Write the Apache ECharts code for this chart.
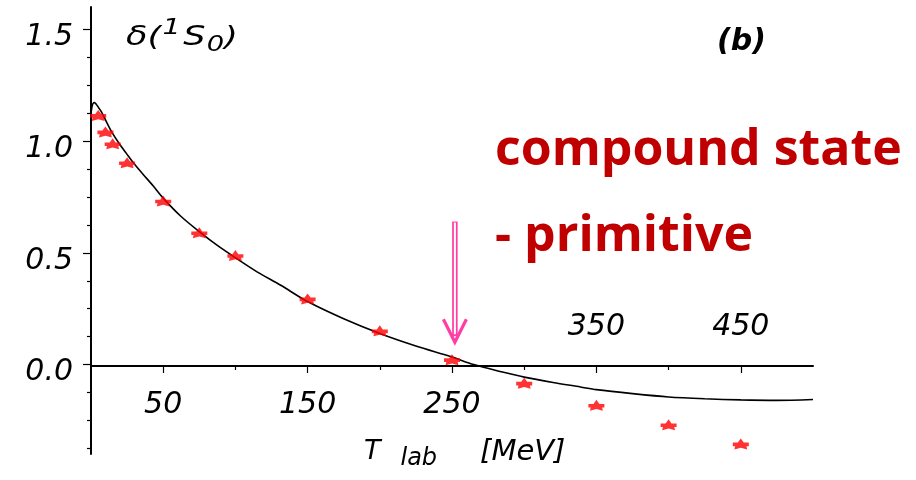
<!DOCTYPE html>
<html><head><meta charset="utf-8">
<script src="https://cdn.jsdelivr.net/npm/echarts@6/dist/echarts.min.js"></script>
<style>html,body{margin:0;padding:0;background:#fff}#c{width:916px;height:480px}</style>
</head><body><div id="c"></div>
<script>
// Theory curve
const curveT = [0, 0.8, 1.6, 2.4, 3.5, 5, 6.8, 8.5, 11.3, 14.3, 19.6, 24.5, 29.3, 36, 43, 50, 62, 75, 87.5, 100, 115, 131.4, 150, 175, 200, 225, 250, 265, 285, 300, 320, 339, 350, 375, 400, 425, 450, 475, 500];
const curveDelta = [1.125, 1.158, 1.170, 1.172, 1.166, 1.152, 1.135, 1.115, 1.078, 1.041, 0.988, 0.945, 0.903, 0.852, 0.800, 0.745, 0.665, 0.595, 0.533, 0.478, 0.415, 0.355, 0.282, 0.205, 0.139, 0.083, 0.034, 0.0, -0.033, -0.056, -0.080, -0.100, -0.112, -0.130, -0.145, -0.153, -0.158, -0.160, -0.156];
// Data points
const dataT = [5, 10, 15, 25, 50, 75, 100, 150, 200, 250, 300, 350, 400, 450];
const dataDelta = [1.115, 1.041, 0.988, 0.903, 0.732, 0.590, 0.488, 0.294, 0.151, 0.022, -0.083, -0.182, -0.269, -0.355];
// Ticks / labels
const yLabelValues = [0, 0.5, 1.0, 1.5];
const yMinorTicks = [-0.375, -0.25, -0.125, 0.125, 0.25, 0.375, 0.625, 0.75, 0.875, 1.125, 1.25, 1.375];
const xLabelsBelow = [50, 150, 250];
const xLabelsAbove = [350, 450];
const xMajorTicks = [50, 150, 250, 350, 450];
const xMinorTicks = [100, 200, 300, 400];
// Annotation arrow (data coords)
const arrowT = 252, arrowFrom = 0.64, arrowTo = 0.10;

const FONT = '"DejaVu Sans", sans-serif';
const chart = echarts.init(document.getElementById('c'), null, {renderer: 'canvas'});

const starPath = 'path://M0,-5 L2.6,-1.6 L7,-1.6 L7,1.4 L5,1.4 L5.6,4 L0,2.6 L-5.6,4 L-5,1.4 L-7,1.4 L-7,-1.6 L-2.6,-1.6 Z';

// layout: main grid, and a thin grid sitting on the y=0 line to carry the x axis
const G = {left: 91, right: 103, top: 7, bottom: 26};
const yMin = -0.4, yMax = 1.6;
const zeroPx = G.top + (480 - G.top - G.bottom) * yMax / (yMax - yMin);

const labelFont = {color: '#000', fontFamily: FONT, fontStyle: 'italic', fontSize: 30};

const option = {
  animation: false,
  backgroundColor: '#fff',
  grid: [
    Object.assign({containLabel: false, outerBoundsMode: 'none'}, G),
    {left: G.left, right: G.right, top: Math.round(zeroPx), height: 1, containLabel: false, outerBoundsMode: 'none'}
  ],
  xAxis: [
    {
      gridIndex: 0, type: 'value', min: 0, max: 500, show: false
    },
    {
      gridIndex: 1, type: 'value', min: 0, max: 500, position: 'bottom',
      axisLine: {show: true, onZero: false, lineStyle: {color: '#000', width: 2}},
      axisTick: {show: true, customValues: xMajorTicks, length: 7, lineStyle: {color: '#000', width: 1.2}},
      axisLabel: Object.assign({show: true, customValues: xLabelsBelow, margin: 24}, labelFont),
      splitLine: {show: false}
    },
    {
      gridIndex: 1, type: 'value', min: 0, max: 500, position: 'top',
      axisLine: {show: false, onZero: false},
      axisTick: {show: true, inside: true, customValues: xMinorTicks, length: 5, lineStyle: {color: '#000', width: 1.2}},
      axisLabel: Object.assign({show: true, customValues: xLabelsAbove, margin: 23}, labelFont),
      splitLine: {show: false}
    }
  ],
  yAxis: [
    {
      gridIndex: 0, type: 'value', min: yMin, max: yMax, position: 'left',
      axisLine: {show: true, onZero: false, lineStyle: {color: '#000', width: 2}},
      axisTick: {show: true, customValues: yLabelValues, length: 8, lineStyle: {color: '#000', width: 1.2}},
      axisLabel: Object.assign({show: true, customValues: yLabelValues, margin: 18,
        formatter: v => '{a|' + v.toFixed(1) + '}',
        rich: {a: {color: '#000', fontFamily: FONT, fontStyle: 'italic', fontSize: 30, padding: [16, 0, 0, 0]}}
      }, labelFont),
      splitLine: {show: false}
    },
    {
      gridIndex: 0, type: 'value', min: yMin, max: yMax, position: 'left',
      axisLine: {show: false, onZero: false},
      axisTick: {show: true, customValues: yMinorTicks, length: 4, lineStyle: {color: '#000', width: 1.2}},
      axisLabel: {show: false},
      splitLine: {show: false}
    },
    {
      gridIndex: 1, type: 'value', min: 0, max: 1, show: false
    }
  ],
  series: [
    {
      type: 'line', xAxisIndex: 0, yAxisIndex: 0,
      data: curveT.map((t, i) => [t, curveDelta[i]]),
      showSymbol: false, symbol: 'none', smooth: 0.3,
      lineStyle: {color: '#000', width: 1.6}, z: 3
    },
    {
      type: 'scatter', xAxisIndex: 0, yAxisIndex: 0,
      data: dataT.map((t, i) => [t, dataDelta[i]]),
      symbol: starPath, symbolSize: [16, 11],
      itemStyle: {color: '#ff0000'}, z: 4
    }
  ],
  graphic: [
    {
      type: 'text', x: 126, y: 17, scaleX: 1.3, z: 10,
      style: {
        text: '{m|δ(}{sup|1}{m|S}{sub|0}{m|)}',
        font: 'italic 27px ' + FONT, fill: '#000',
        rich: {
          m: {fontFamily: FONT, fontStyle: 'italic', fontSize: 27, fill: '#000'},
          sup: {fontFamily: FONT, fontStyle: 'italic', fontSize: 22, fill: '#000', padding: [0, 2, 20, 1]},
          sub: {fontFamily: FONT, fontStyle: 'italic', fontSize: 21, fill: '#000', padding: [16, 0, 0, 1]}
        }
      }
    },
    {
      type: 'text', x: 717, y: 27, z: 10,
      style: {text: '(b)', font: 'italic bold 30px ' + FONT, fill: '#000'}
    },
    {
      type: 'text', x: 364, y: 433, z: 10,
      style: {
        text: '{m|T}{sub|lab}{b|[MeV]}',
        font: 'italic 27px ' + FONT, fill: '#000',
        rich: {
          m: {fontFamily: FONT, fontStyle: 'italic', fontSize: 27, fill: '#000'},
          b: {fontFamily: FONT, fontStyle: 'italic', fontSize: 29, fill: '#000', padding: [0, 0, 0, 43]},
          sub: {fontFamily: FONT, fontStyle: 'italic', fontSize: 24, fill: '#000', padding: [14, 0, 0, 20]}
        }
      }
    },
    {
      type: 'text', x: 495, y: 126, z: 10,
      style: {text: 'compound state', font: 'bold 50px "Open Sans", sans-serif', fill: '#c00000'}
    },
    {
      type: 'text', x: 495, y: 212, z: 10,
      style: {text: '- primitive', font: 'bold 50px "Open Sans", sans-serif', fill: '#c00000'}
    }
  ]
};
chart.setOption(option);

// arrow annotation from data coordinates
const pTop = chart.convertToPixel({xAxisIndex: 0, yAxisIndex: 0}, [arrowT, arrowFrom]);
const pTip = chart.convertToPixel({xAxisIndex: 0, yAxisIndex: 0}, [arrowT, arrowTo]);
const ax = pTop[0];
const PINK = '#ff3ea5';
chart.setOption({
  graphic: option.graphic.concat([
    {type: 'line', z: 20, shape: {x1: ax, y1: pTop[1], x2: ax, y2: pTip[1] - 6}, style: {stroke: PINK, lineWidth: 5.5}},
    {type: 'line', z: 21, shape: {x1: ax, y1: pTop[1] + 1, x2: ax, y2: pTip[1] - 8}, style: {stroke: '#fff', lineWidth: 2}},
    {type: 'polyline', z: 22, shape: {points: [[ax - 11.5, pTip[1] - 23], [ax, pTip[1]], [ax + 11.5, pTip[1] - 23]]},
      style: {stroke: PINK, lineWidth: 3.2, fill: null, lineJoin: 'miter'}}
  ])
});
</script></body></html>
